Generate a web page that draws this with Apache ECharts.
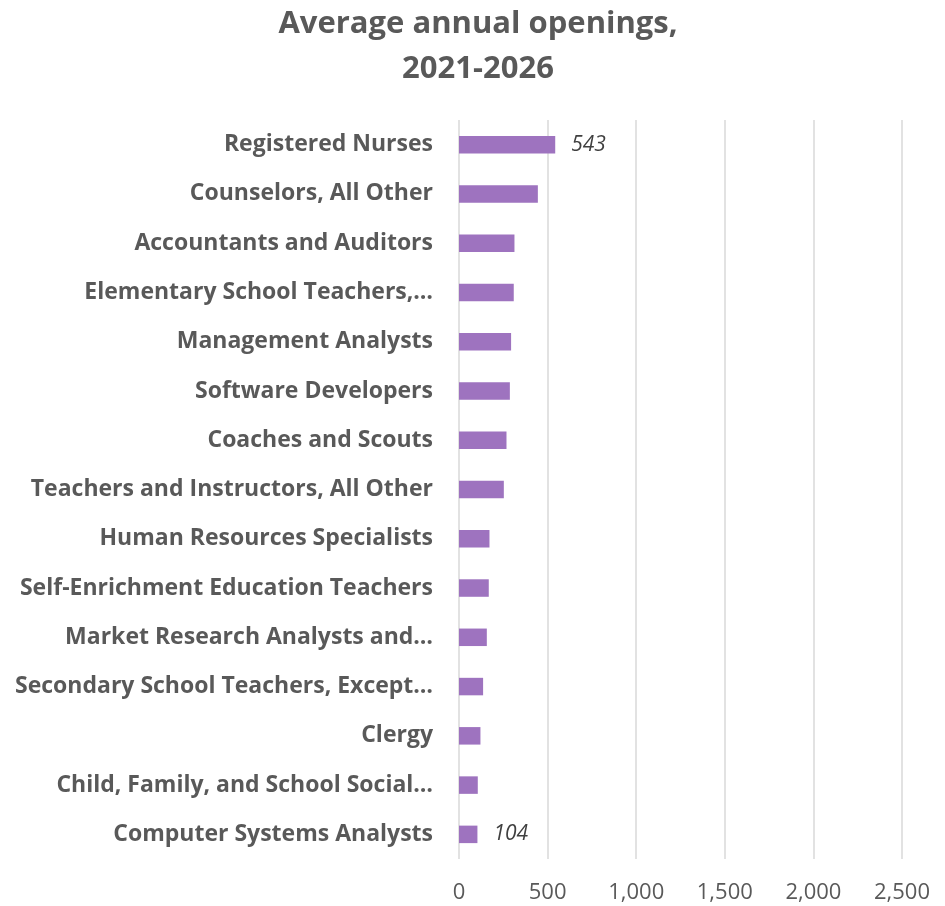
<!DOCTYPE html>
<html>
<head>
<meta charset="utf-8">
<style>
  html, body { margin: 0; padding: 0; background: #ffffff; }
  #chart { width: 945px; height: 906px; }
</style>
<script src="https://cdn.jsdelivr.net/npm/echarts@6/dist/echarts.min.js"></script>
</head>
<body>
<div id="chart"></div>
<script>
// Occupations, ordered from most to fewest openings
const occupations = [
  'Registered Nurses',
  'Counselors, All Other',
  'Accountants and Auditors',
  'Elementary School Teachers,…',
  'Management Analysts',
  'Software Developers',
  'Coaches and Scouts',
  'Teachers and Instructors, All Other',
  'Human Resources Specialists',
  'Self-Enrichment Education Teachers',
  'Market Research Analysts and…',
  'Secondary School Teachers, Except…',
  'Clergy',
  'Child, Family, and School Social…',
  'Computer Systems Analysts'
];

// Average annual openings per occupation
const openings = [543, 445, 313, 309, 294, 287, 268, 253, 172, 168, 157, 136, 121, 106, 104];

// Only the first and last bars carry a value label
const labelledIndexes = [0, 14];

const xTicks = { min: 0, max: 2500, interval: 500 };

const textGrey = '#595959';
const barColor = '#9e73bf';
const font = '"Open Sans", "Noto Sans", sans-serif';

const chart = echarts.init(document.getElementById('chart'), null, { renderer: 'canvas' });

chart.setOption({
  backgroundColor: '#ffffff',
  animation: false,
  title: {
    text: 'Average annual openings,\n2021-2026',
    left: 473,
    textAlign: 'center',
    top: -3,
    textStyle: {
      fontFamily: font,
      fontWeight: 'bold',
      fontSize: 31,
      lineHeight: 45,
      color: textGrey
    }
  },
  grid: {
    left: 459,
    right: 43,
    top: 120,
    bottom: 47,
    containLabel: false
  },
  xAxis: {
    type: 'value',
    min: xTicks.min,
    max: xTicks.max,
    interval: xTicks.interval,
    axisLine: { show: false },
    axisTick: { show: false },
    splitLine: { show: true, lineStyle: { color: '#d9d9d9', width: 1.5 } },
    axisLabel: {
      margin: 23,
      fontFamily: font,
      fontSize: 22,
      color: textGrey,
      formatter: v => v.toLocaleString('en-US')
    }
  },
  yAxis: {
    type: 'category',
    inverse: true,
    data: occupations,
    axisLine: { show: false },
    axisTick: { show: false },
    axisLabel: {
      margin: 26,
      padding: [6, 0, 0, 0],
      fontFamily: font,
      fontWeight: 'bold',
      fontSize: 23,
      color: textGrey
    }
  },
  series: [{
    type: 'bar',
    data: openings.map((v, i) => ({
      value: v,
      label: {
        show: labelledIndexes.includes(i),
        position: 'right',
        distance: 16,
        padding: [3, 0, 0, 0],
        fontFamily: font,
        fontStyle: 'italic',
        fontSize: 21,
        color: '#404040'
      }
    })),
    barWidth: 17.5,
    itemStyle: { color: barColor }
  }]
});
</script>
</body>
</html>
